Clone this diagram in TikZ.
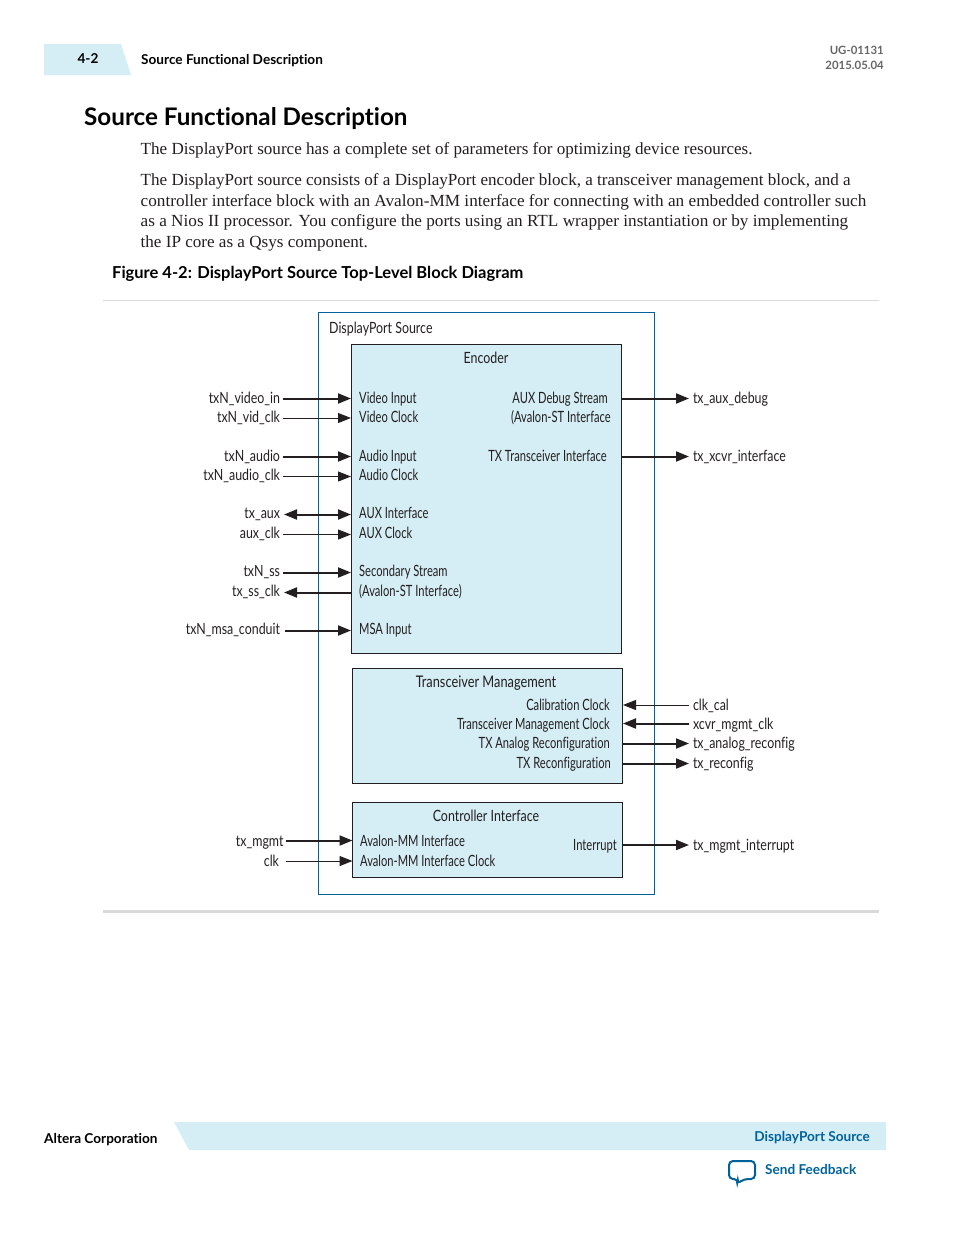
\documentclass[tikz,border=0pt]{standalone}
\usepackage{fontspec}
\usetikzlibrary{arrows.meta}
\setmainfont{Liberation Serif}
\newfontfamily\headfont{Lato}[BoldFont={Lato Bold},Ligatures=NoCommon]
\newfontfamily\diafont{Lato}[FakeStretch=0.8,Ligatures=NoCommon]
\newfontfamily\portfont{Lato}[FakeStretch=0.72,Ligatures=NoCommon]
\definecolor{paleblue}{HTML}{D5EDF5}
\definecolor{alterablue}{HTML}{00629B}
\definecolor{rulegray}{HTML}{D9D9D9}
\definecolor{inkdark}{HTML}{231F20}
\newcommand{\wid}[2]{\scalebox{#1}[1]{#2}}
\tikzset{
  body/.style={anchor=base west,inner sep=0pt,font=\fontsize{17}{20}\selectfont,text=inkdark},
  head/.style={inner sep=0pt,font=\headfont\bfseries\fontsize{13.6}{16}\selectfont,text=black},
  dia/.style={inner sep=0pt,font=\diafont\fontsize{15.5}{18}\selectfont,text=inkdark},
  sigL/.style={dia,anchor=base east,outer sep=3pt},
  sigR/.style={dia,anchor=base west,outer sep=4pt},
  port/.style={dia,font=\portfont\fontsize{15.5}{18}\selectfont,anchor=base west},
  portR/.style={dia,font=\portfont\fontsize{15.5}{18}\selectfont,anchor=base east},
  title/.style={dia,anchor=base},
  blk/.style={draw=inkdark,fill=paleblue,line width=1pt},
  thin sig/.style={draw=inkdark,line width=1pt},
  thick sig/.style={draw=inkdark,line width=2pt},
  hd/.style={-{Triangle[length=13pt,width=10pt]}},
  hh/.style={{Triangle[length=13pt,width=10pt]}-{Triangle[length=13pt,width=10pt]}},
}
\begin{document}
\begin{tikzpicture}[x=1pt,y=-1pt]
\useasboundingbox (0,0) rectangle (954,1235);
% page furniture
\fill[paleblue] (44,44) -- (121,44) -- (131,75) -- (44,75) -- cycle;
\fill[paleblue] (174,1122) -- (886,1122) -- (886,1150) -- (189,1150) -- cycle;
\node[head,anchor=base] (pg) at (88,63.5) {4-2};
\node[head,anchor=base west] (hdr) at (141,64) {Source Functional Description};
\node[head,anchor=base east,text=black!60,font=\headfont\bfseries\fontsize{11.4}{14}\selectfont] (ug) at (884,54) {UG-01131};
\node[head,anchor=base east,text=black!60,font=\headfont\bfseries\fontsize{11.4}{14}\selectfont] (dt) at (884,69) {2015.05.04};
\node[head,anchor=base west,font=\headfont\bfseries\fontsize{24.2}{28}\selectfont] (ttl) at (84,125) {Source Functional Description};
\node[body] (b1) at (140.5,154.5) {\wid{1.004}{The DisplayPort source has a complete set of parameters for optimizing device resources.}};
\node[body] (b2) at (140.5,185.5) {\wid{1.004}{The DisplayPort source consists of a DisplayPort encoder block, a transceiver management block, and a}};
\node[body] (b3) at (140.5,206) {\wid{1.0125}{controller interface block with an Avalon-MM interface for connecting with an embedded controller such}};
\node[body] (b4) at (140.5,226.5) {\wid{1.011}{as a Nios II processor. You configure the ports using an RTL wrapper instantiation or by implementing}};
\node[body] (b5) at (140.5,247) {\wid{1.005}{the IP core as a Qsys component.}};
\node[head,anchor=base west,font=\headfont\bfseries\fontsize{16.5}{18}\selectfont] (cap) at (112,278) {Figure 4-2: DisplayPort Source Top-Level Block Diagram};
\draw[rulegray,line width=1pt] (103,300.5) -- (879,300.5);
\draw[rulegray,line width=3pt] (103,911.5) -- (879,911.5);
\node[head,anchor=base west] (corp) at (44,1143) {Altera Corporation};
\node[head,anchor=base east,text=alterablue] (src) at (870,1141) {DisplayPort Source};
\node[head,anchor=base west,text=alterablue] (fb) at (765,1174) {Send Feedback};
\draw[alterablue,line width=2pt,rounded corners=4pt,fill=white] (729,1161) -- (755,1161) -- (755,1179) -- (744,1179) -- (737,1184) -- (738,1179) -- (729,1179) -- cycle;
% blocks
\draw[alterablue,line width=1pt] (318.5,312.5) rectangle (654.5,894.5);
\node[dia,anchor=base west] (dps) at (329,333) {DisplayPort Source};
\draw[blk] (351.5,344.5) rectangle (621.5,653.5);
\draw[blk] (352.5,668.5) rectangle (622.5,783.5);
\draw[blk] (352.5,802.5) rectangle (622.5,877.5);
\node[title] (enc) at (486,363) {Encoder};
\node[title,font=\diafont\fontsize{16}{18}\selectfont] (tm) at (486,687) {Transceiver Management};
\node[title] (ci) at (486,821) {Controller Interface};
% encoder ports
\node[port] (p1) at (359,403) {Video Input};
\node[port] (p2) at (359,422) {Video Clock};
\node[port] (p3) at (359,461) {Audio Input};
\node[port] (p4) at (359,480) {Audio Clock};
\node[port] (p5) at (359,518) {AUX Interface};
\node[port] (p6) at (359,538) {AUX Clock};
\node[port] (p7) at (359,576) {Secondary Stream};
\node[port] (p8) at (359,596) {(Avalon-ST Interface)};
\node[port] (p9) at (359,634) {MSA Input};
\node[portR] (q1) at (608,403) {AUX Debug Stream};
\node[portR] (q1b) at (611,422) {(Avalon-ST Interface};
\node[portR] (q2) at (607,461) {TX Transceiver Interface};
% tm ports
\node[portR] (r1) at (610,710) {Calibration Clock};
\node[portR] (r2) at (610,729) {Transceiver Management Clock};
\node[portR] (r3) at (610,748) {TX Analog Reconfiguration};
\node[portR] (r4) at (611,768) {TX Reconfiguration};
% ci ports
\node[port] (c1) at (360,846) {Avalon-MM Interface};
\node[port] (c2) at (360,866) {Avalon-MM Interface Clock};
\node[portR] (c3) at (617,850) {Interrupt};
% port anchors
\foreach \n/\y in {e1/398.5,e2/418,e3/456.5,e4/476.5,e5/514.5,e6/534.5,e7/572.5,e8/592.5,e9/630.5}
  \coordinate (\n) at (351,\y);
\foreach \n/\y in {f1/398.5,f2/456.5}
  \coordinate (\n) at (622,\y);
\foreach \n/\y in {g1/705,g2/723.5,g3/743.5,g4/763.5,g5/845}
  \coordinate (\n) at (623,\y);
\coordinate (h1) at (352.5,840.5);
\coordinate (h2) at (352.5,861);
% left signals
\node[sigL] (l1) at (283,403) {txN\_video\_in};
\node[sigL] (l2) at (283,422) {txN\_vid\_clk};
\node[sigL] (l3) at (283,461) {txN\_audio};
\node[sigL] (l4) at (283,480) {txN\_audio\_clk};
\node[sigL,outer sep=4pt] (l5) at (284,518) {tx\_aux};
\node[sigL] (l6) at (283,538) {aux\_clk};
\node[sigL] (l7) at (283,576) {txN\_ss};
\node[sigL,outer sep=4pt] (l8) at (284,596) {tx\_ss\_clk};
\node[sigL,outer sep=5pt] (l9) at (285,634) {txN\_msa\_conduit};
\node[sigL,outer sep=2.5pt] (l10) at (286,846) {tx\_mgmt};
\node[sigL,outer sep=7pt] (l11) at (286,866) {clk};
% right signals
\node[sigR] (m1) at (689,403) {tx\_aux\_debug};
\node[sigR] (m2) at (689,461) {tx\_xcvr\_interface};
\node[sigR] (m3) at (689,710) {clk\_cal};
\node[sigR] (m4) at (689,729) {xcvr\_mgmt\_clk};
\node[sigR] (m5) at (689,748) {tx\_analog\_reconfig};
\node[sigR] (m6) at (689,768) {tx\_reconfig};
\node[sigR] (m7) at (689,850) {tx\_mgmt\_interrupt};
% connectors
\draw[thick sig,hd] (l1.east |- e1) -- (e1);
\draw[thin sig,hd] (l2.east |- e2) -- (e2);
\draw[thick sig,hd] (l3.east |- e3) -- (e3);
\draw[thin sig,hd] (l4.east |- e4) -- (e4);
\draw[thick sig,hh] (l5.east |- e5) -- (e5);
\draw[thin sig,hd] (l6.east |- e6) -- (e6);
\draw[thick sig,hd] (l7.east |- e7) -- (e7);
\draw[thick sig,hd] (e8) -- (l8.east |- e8);
\draw[thick sig,hd] (l9.east |- e9) -- (e9);
\draw[thick sig,hd] (f1) -- (m1.west |- f1);
\draw[thick sig,hd] (f2) -- (m2.west |- f2);
\draw[thin sig,hd] (m3.west |- g1) -- (g1);
\draw[thick sig,hd] (m4.west |- g2) -- (g2);
\draw[thick sig,hd] (g3) -- (m5.west |- g3);
\draw[thick sig,hd] (g4) -- (m6.west |- g4);
\draw[thick sig,hd] (g5) -- (m7.west |- g5);
\draw[thick sig,hd] (l10.east |- h1) -- (h1);
\draw[thin sig,hd] (l11.east |- h2) -- (h2);
\end{tikzpicture}
\end{document}
